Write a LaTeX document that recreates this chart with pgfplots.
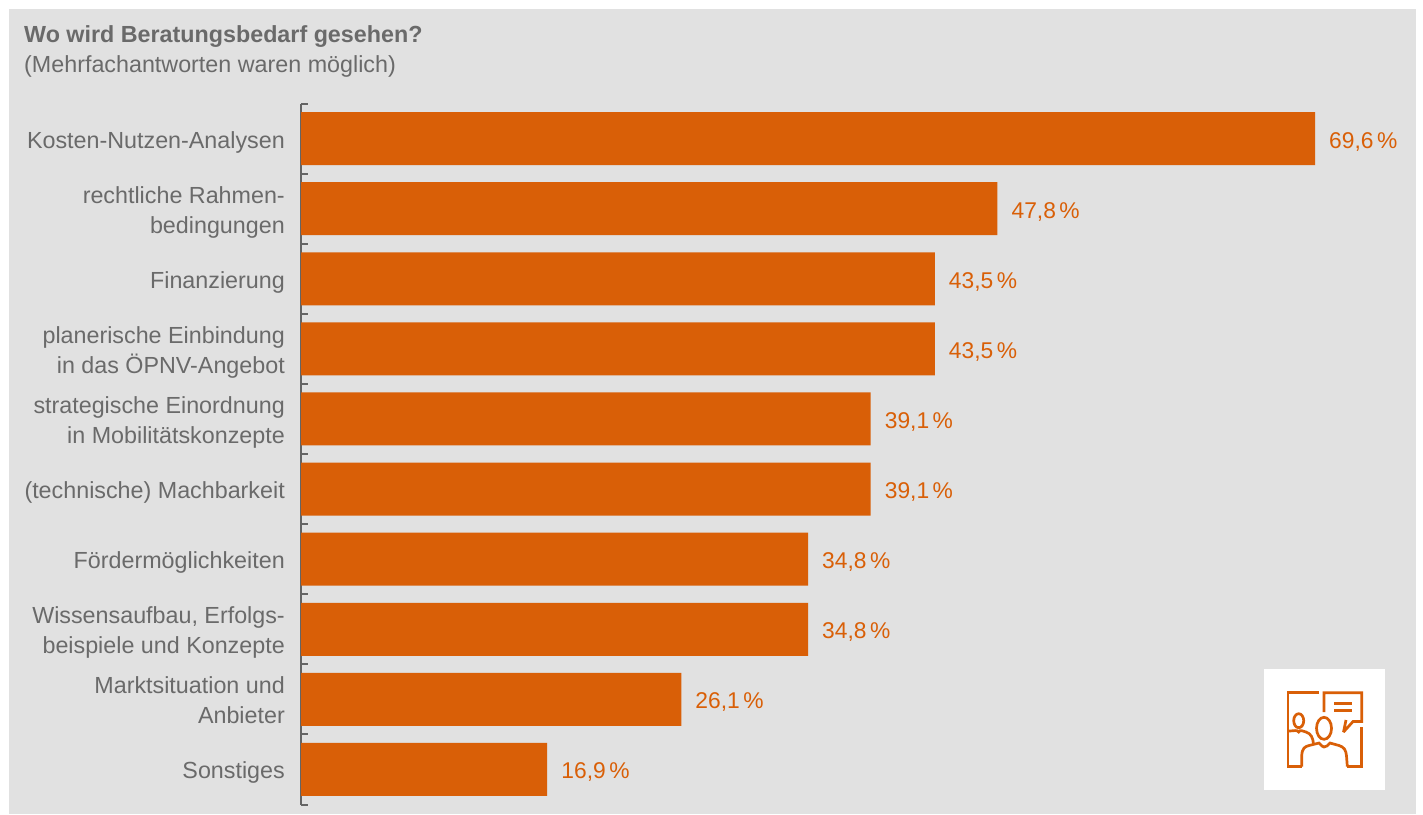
\documentclass[border=0pt]{standalone}
\usepackage{pgfplots}
\pgfplotsset{compat=1.18}
\usepackage{fontspec}
\setmainfont{Liberation Sans}
\definecolor{panel}{HTML}{E1E1E1}
\definecolor{txt}{HTML}{6A6A6A}
\definecolor{axisgray}{HTML}{646464}
\definecolor{bar}{HTML}{D95F07}
\newcommand{\lab}{\fontsize{23.3}{30}\selectfont}
\begin{document}
\begin{tikzpicture}[x=1pt,y=-1pt]
  % page and panel
  \fill[white] (0,0) rectangle (1423,814);
  \fill[panel] (9,9) rectangle (1416,814);
  % heading
  \node[anchor=base west,inner sep=0,text=txt,font=\fontsize{23.3}{26}\selectfont\bfseries] at (24,42) {Wo wird Beratungsbedarf gesehen?};
  \node[anchor=base west,inner sep=0,text=txt,font=\lab] at (24,72) {(Mehrfachantworten waren möglich)};

  \begin{axis}[
    at={(301pt,-804.5pt)}, anchor=south west,
    scale only axis, width=1100pt, height=701pt,
    xmin=0, xmax=75.5, ymin=-0.5, ymax=9.5,
    y dir=reverse,
    axis x line=none, axis y line*=left,
    axis line style={draw=axisgray,line width=2pt,-},
    xbar, bar width=53pt,
    ytick={0,...,9},
    yticklabels={\strut Kosten-Nutzen-Analysen,
      {\strut rechtliche Rahmen-\\\strut bedingungen},
      \strut Finanzierung,
      {\strut planerische Einbindung\\\strut in das ÖPNV-Angebot},
      {\strut strategische Einordnung\\\strut in Mobilitätskonzepte},
      \strut (technische) Machbarkeit,
      \strut Fördermöglichkeiten,
      {\strut Wissensaufbau, Erfolgs-\\\strut beispiele und Konzepte},
      {\strut Marktsituation und\\\strut Anbieter},
      \strut Sonstiges},
    yticklabel style={align=right,text=txt,font=\lab,inner sep=0pt,xshift=-16pt,yshift=-3.5pt},
    major tick length=0pt,
    minor ytick={-0.5,0.5,...,9.5},
    minor tick length=7pt,
    tick align=inside,
    minor tick style={draw=axisgray,line width=2pt},
    clip=false,
    /pgf/number format/assume math mode=true,
    nodes near coords={\pgfmathprintnumber[fixed,fixed zerofill,precision=1,use comma,assume math mode=true]{\pgfplotspointmeta}\kern3.5pt\%},
    point meta=x,
    nodes near coords align={horizontal},
    every node near coord/.append style={text=bar,font=\fontsize{22.8}{30}\selectfont,inner sep=0pt,xshift=14pt,yshift=-3pt},
  ]
    \addplot[fill=bar,draw=none] coordinates {
      (69.6,0) (47.8,1) (43.5,2) (43.5,3) (39.1,4)
      (39.1,5) (34.8,6) (34.8,7) (26.1,8) (16.9,9)};
  \end{axis}

  % consulting icon
  \fill[white] (1264,669) rectangle (1385,790);
  \begin{scope}[draw=bar,line width=2.7pt,line join=miter,miter limit=3]
    \draw (1319,692.7) -- (1288,692.7) -- (1288,766.5) -- (1301.7,766.5);
    \draw (1324,712) -- (1324,692.7) -- (1361.7,692.7) -- (1361.7,721.5) -- (1353,721.5) -- (1343.5,732) -- (1346,720);
    \draw (1361.7,727) -- (1361.7,766.5) -- (1347.3,766.5);
    \draw (1334,703.3) -- (1352,703.3) (1334,710.7) -- (1352,710.7);
    \draw (1298.7,720.7) ellipse [x radius=5,y radius=7];
    \draw (1324,728.3) ellipse [x radius=7.5,y radius=11];
    \draw (1289,731) .. controls (1294,731) and (1297,729.5) .. (1298.7,732)
      .. controls (1300,729.5) and (1303,731) .. (1306,732)
      .. controls (1311,733.5) and (1313,738) .. (1313.5,744);
    \draw (1301.7,766.5) -- (1301.7,756) .. controls (1302,748) and (1305,746.5) .. (1309,745.5)
      -- (1319,743) .. controls (1321,745.5) and (1323,747) .. (1324,747)
      .. controls (1326,747) and (1328,745.5) .. (1330,743)
      -- (1339,745.5) .. controls (1344,747) and (1346,750) .. (1346.5,756) -- (1347.3,766.5);
  \end{scope}
\end{tikzpicture}
\end{document}
